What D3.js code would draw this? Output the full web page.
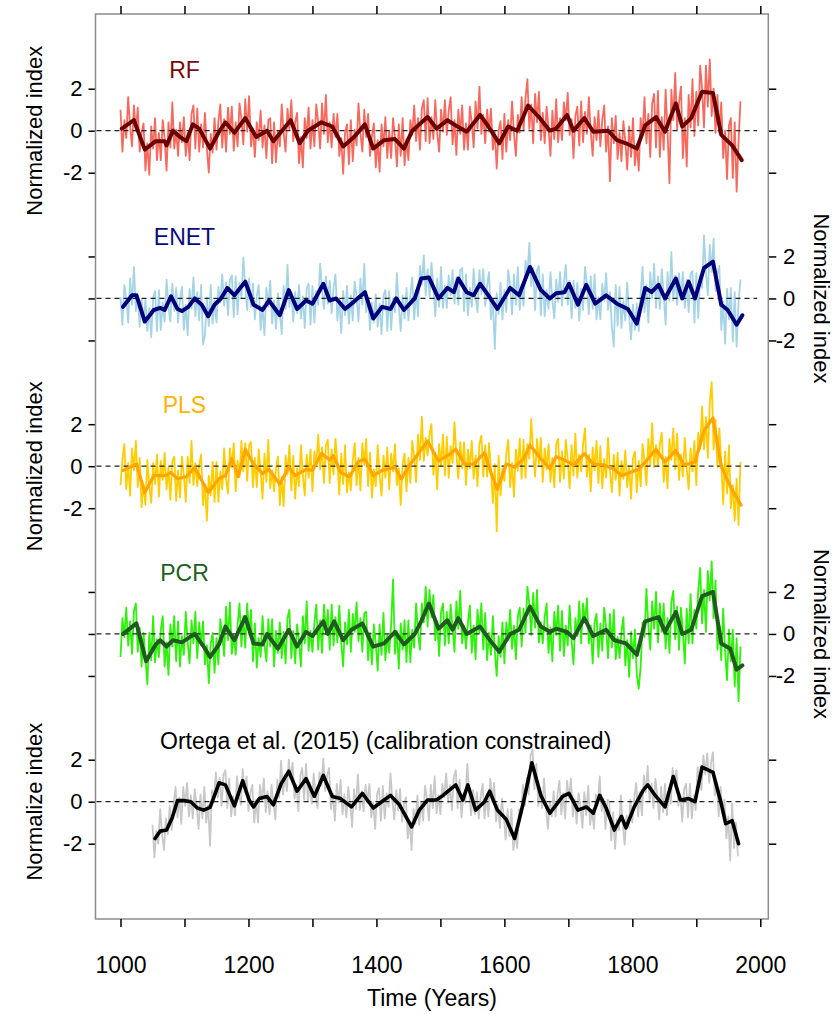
<!DOCTYPE html>
<html>
<head>
<meta charset="utf-8">
<script src="https://cdn.jsdelivr.net/npm/d3@7"></script>
<style>
body { margin: 0; background: #fff; }
text { font-family: "Liberation Sans", Arial, sans-serif; fill: #000; }
</style>
</head>
<body>
<div id="chart"></div>
<script>
// annual reconstructions, read every 3 years off the figure
var rfNoise = [
 1.0,-1.0,0.5,-0.35,1.6,0.2,-0.75,1.2,0.0,1.1,
 -1.0,-0.1,0.35,-1.9,-0.6,-2.1,0.2,-0.85,0.6,-1.4,
 -0.1,-1.4,0.5,-0.4,-1.9,0.4,-0.8,1.35,-0.85,0.05,
 -1.2,0.4,-0.55,0.65,-1.2,-0.1,-1.4,0.8,1.2,-0.85,
 1.05,-1.0,0.3,-0.8,0.85,-0.85,-2.0,-0.15,-1.05,0.6,
 -0.9,0.45,1.25,-0.8,0.55,-1.0,1.1,-0.15,1.15,-0.95,
 0.4,-0.75,1.3,0.55,-0.65,1.5,-0.05,1.65,-0.75,0.1,
 -1.25,0.4,-0.45,0.95,-0.8,0.25,-1.3,0.5,0.6,-1.55,
 0.4,-1.5,0.0,-0.75,1.25,-0.1,-1.0,1.05,0.05,1.45,
 -0.5,0.4,0.85,-1.55,-0.3,-1.75,0.6,-0.35,1.1,-0.85,
 0.5,-0.75,1.25,0.4,-0.85,1.3,-0.15,1.7,-0.55,0.4,
 -0.8,0.8,-0.3,0.8,-1.2,-0.35,-2.05,-0.1,0.3,-1.6,
 0.5,-1.45,0.05,-0.7,1.3,-0.1,-1.0,1.0,-0.3,0.8,
 -1.2,-0.25,0.35,-1.75,-0.45,-1.95,0.3,-0.75,0.65,-1.3,
 0.0,-1.3,0.6,-0.3,-1.7,0.3,-1.2,0.6,-1.65,-0.4,
 -1.4,0.5,-0.2,1.2,-0.5,0.6,-0.9,1.05,1.45,-0.5,
 1.55,-0.6,0.65,-0.4,1.45,-0.1,-1.0,1.0,-0.05,1.45,
 -0.2,0.95,1.6,-0.65,0.5,-1.15,1.0,-0.15,1.2,-0.9,
 0.35,-0.9,1.15,0.4,-0.8,1.4,0.1,2.1,-0.15,0.75,
 -0.6,1.0,-0.05,1.05,-0.9,-0.05,-1.8,0.0,0.45,-1.35,
 0.8,-1.0,0.5,-0.45,1.4,-0.15,-1.2,0.75,-0.1,1.6,
 0.0,1.55,2.45,0.1,1.25,-0.6,1.75,0.4,1.85,-0.45,
 0.85,-0.6,1.15,0.15,-1.2,0.95,-0.4,1.5,-0.55,0.6,
 -0.45,1.35,0.5,1.8,-0.2,0.55,-1.3,0.7,1.15,-0.7,
 1.4,-0.55,0.9,-0.15,1.6,-0.05,-1.2,0.65,-0.45,0.95,
 -0.75,0.5,1.2,-1.0,0.2,-2.4,0.6,-0.6,0.7,-1.35,
 -0.1,-1.45,0.45,-0.5,-1.85,0.2,-1.25,0.6,-1.65,-0.65,
 -1.9,0.6,-0.25,1.6,-0.6,0.8,-1.25,1.3,1.75,-0.8,
 1.9,-1.25,0.65,-0.9,1.95,0.0,-2.5,1.95,0.5,2.75,
 0.05,1.35,2.1,-1.3,0.6,-1.7,1.7,0.15,2.45,-0.25,
 1.85,0.25,3.1,2.0,0.15,3.1,1.15,3.4,0.7,2.0,
 -0.1,1.7,-0.1,1.35,-1.3,0.0,-2.3,0.25,0.6,-2.25,
 0.4,-2.9,-0.5,1.4
];
var enetNoise = [
 0.05,-1.25,0.65,-0.05,-1.15,0.95,-0.3,1.5,-0.6,0.1,
 -1.35,-0.05,-1.15,-0.05,-1.55,-0.45,-1.85,0.0,0.35,-1.55,
 0.4,-1.5,-0.2,-1.1,0.9,-0.35,-1.1,0.7,-0.6,0.5,
 -1.15,-0.05,0.55,-1.5,-0.3,-1.75,0.45,-0.5,1.0,-0.85,
 0.3,-1.05,0.65,-2.2,-1.75,0.05,-1.3,0.65,-1.2,-0.1,
 -1.15,0.55,-0.2,1.15,-0.35,0.75,-0.8,0.9,1.1,-0.9,
 1.05,-0.75,0.75,0.05,1.95,0.6,-0.55,0.95,-0.4,0.7,
 -1.0,0.1,0.65,-1.5,-0.35,-1.75,0.5,-0.4,0.85,-1.2,
 -0.1,-1.45,0.25,-0.7,-1.7,0.6,-0.5,1.6,-0.4,0.3,
 -1.1,0.3,-0.7,0.65,-0.95,0.1,-1.4,0.45,0.7,-1.25,
 0.6,-1.15,0.35,-0.3,1.65,0.4,-0.5,1.05,-0.25,0.85,
 -0.7,0.5,1.15,-1.05,0.0,-1.65,0.35,-0.8,0.6,-1.2,
 0.15,-1.05,0.8,0.05,-1.1,0.95,-0.3,1.65,-0.65,0.0,
 -1.5,-0.2,-1.15,0.2,-1.35,-0.25,-1.7,0.15,0.4,-1.55,
 0.35,-1.5,0.0,-0.65,1.2,-0.4,-1.55,0.15,-0.95,0.5,
 -1.05,0.15,1.0,-1.0,0.4,-0.85,1.55,0.65,2.05,0.15,
 1.4,0.1,1.7,0.6,-0.85,0.95,-0.4,1.5,-0.45,0.6,
 -0.45,1.1,0.15,1.35,-0.25,1.0,-0.3,1.35,1.45,-0.6,
 1.15,-0.8,0.5,-0.4,1.4,0.1,-0.65,1.35,0.2,1.4,
 -0.35,0.65,1.25,-1.0,-0.05,-2.4,0.25,-0.75,0.75,-1.0,
 0.4,-0.65,1.35,0.6,-0.75,1.15,-0.3,1.5,-0.55,0.65,
 -0.35,1.8,1.1,2.65,0.6,1.45,-0.55,1.35,1.55,-0.8,
 1.15,-0.85,0.4,-0.5,1.25,-0.1,-0.95,0.9,-0.15,1.25,
 -0.35,0.75,1.6,-0.3,0.85,-0.95,0.85,-0.45,0.75,-1.05,
 0.45,-0.55,1.5,0.7,-0.75,1.05,-0.5,1.15,-1.0,0.05,
 -1.0,0.7,-0.1,1.2,-0.55,0.3,-1.35,-2.3,0.65,-1.3,
 0.55,-1.4,-0.1,-1.05,0.75,-0.85,-1.95,-0.3,-1.5,-0.25,
 -1.55,0.25,1.5,-0.65,0.65,-1.15,1.25,0.0,1.65,-0.45,
 1.05,-0.5,1.4,0.2,-1.25,1.25,-0.1,2.2,-0.1,1.1,
 -0.3,1.2,-0.05,1.25,-0.45,0.9,-0.65,1.2,1.3,-1.15,
 1.2,-0.95,1.1,0.5,3.0,1.25,0.15,2.55,1.25,2.85,
 0.35,1.2,1.55,-1.5,-0.15,-2.15,0.45,-1.0,0.5,-2.05,
 0.3,-2.3,-0.2,0.9
];
var plsNoise = [
 -0.9,0.3,1.05,-1.1,0.15,-1.4,0.85,-0.2,1.2,-1.0,
 0.4,-1.95,-0.85,-1.85,0.3,-0.95,-1.75,0.15,-0.85,0.55,
 -1.45,0.25,-0.65,0.65,-1.1,-0.05,-1.6,0.25,0.45,-1.65,
 -0.2,-1.5,0.45,-0.4,-1.7,0.45,-0.8,1.2,-0.9,0.15,
 -0.95,0.05,0.55,-1.85,-0.85,-2.6,-0.45,-1.4,0.2,-1.7,
 0.2,-1.7,-0.25,-1.1,0.85,-0.6,-1.3,0.85,-0.05,1.1,
 -1.2,0.25,-0.5,1.2,-0.25,1.1,-0.7,1.0,1.15,-1.0,
 0.4,-1.0,0.8,-0.2,-1.55,0.6,-0.75,1.25,-1.05,-0.2,
 -1.2,-0.1,0.45,-1.85,-0.5,-1.9,0.5,-0.4,1.0,-1.15,
 0.5,-1.55,-0.1,-0.95,1.0,-0.45,-1.4,0.55,-0.55,0.8,
 -1.2,0.7,0.0,1.5,-0.15,0.9,-0.8,1.0,1.25,-0.8,
 0.8,-0.4,1.3,0.2,-1.35,0.6,-0.85,1.0,-1.25,-0.3,
 -1.15,0.25,1.1,-0.9,0.4,-1.15,1.1,0.05,1.3,-0.95,
 0.65,-1.5,-0.15,-0.95,1.0,-0.45,-1.4,0.5,-0.55,0.9,
 -1.1,0.6,-0.25,1.05,-0.9,-0.1,-1.85,0.1,0.6,-1.2,
 0.4,-0.8,1.2,0.45,-0.75,1.5,0.3,2.35,0.25,1.35,
 0.5,1.5,2.0,-0.4,0.65,-1.1,1.05,0.0,1.5,-0.45,
 1.4,-0.55,0.95,0.15,2.1,0.55,-0.6,1.15,-0.1,1.15,
 -0.9,0.8,-0.1,1.2,-0.6,0.5,-0.95,1.05,1.45,-0.5,
 1.0,-0.5,1.1,-0.2,-1.75,0.1,-3.1,0.5,-1.4,-0.1,
 -0.7,0.6,1.25,-1.0,0.15,-1.45,0.8,-0.2,1.3,-0.6,
 1.25,-0.55,1.05,0.35,2.25,0.6,-0.5,1.3,0.1,1.35,
 -0.75,0.85,-0.15,1.05,-0.75,0.4,-1.0,1.05,1.3,-0.75,
 0.7,-0.6,1.25,0.3,-1.05,1.0,-0.45,1.55,-0.55,0.55,
 -0.25,1.05,1.8,-0.5,0.55,-1.2,0.9,-0.2,1.2,-0.8,
 0.95,-1.05,0.35,-0.55,1.35,-0.2,-1.25,0.55,-0.65,0.65,
 -1.4,0.25,-0.6,0.75,-1.0,0.0,-1.55,0.4,0.7,-1.25,
 0.25,-0.95,1.05,0.25,-0.9,1.3,0.05,2.05,-0.05,1.0,
 0.0,1.05,1.6,-0.75,0.45,-1.05,1.3,0.3,1.8,-0.15,
 1.55,-0.65,0.55,-0.5,1.35,-0.1,-1.1,0.85,-0.25,1.2,
 -0.9,1.6,0.8,2.85,0.8,2.35,0.4,3.0,4.0,0.8,
 2.2,-0.05,1.8,0.15,-1.8,0.7,-1.3,1.0,-2.0,-0.9,
 -2.6,-0.6,-2.8,0.2
];
var pcrNoise = [
 -1.1,0.75,-0.15,1.25,-0.55,0.6,-0.95,1.1,1.45,-0.85,
 0.3,-1.55,0.05,-1.2,-2.4,0.05,-1.25,0.85,-1.35,-0.25,
 -1.1,0.2,0.85,-1.55,-0.4,-1.95,0.45,-0.6,0.85,-1.3,
 0.6,-1.55,-0.1,-1.0,1.05,-0.4,-1.4,0.65,-0.45,1.05,
 -1.15,0.55,-0.55,0.6,-1.45,-0.55,-2.35,-0.45,0.05,-1.85,
 -0.2,-1.45,0.7,0.0,-1.05,1.3,-0.3,1.5,-0.95,-0.05,
 -1.0,0.45,1.45,-0.6,0.85,-0.65,1.45,0.0,1.15,-1.3,
 0.5,-1.6,-0.2,-1.1,0.85,-0.5,-1.3,0.7,-0.6,0.7,
 -1.55,0.15,-0.9,0.55,-1.15,0.1,-1.4,0.75,1.15,-1.15,
 0.15,-1.4,0.45,-0.35,-1.55,0.85,-0.45,1.55,-0.8,0.15,
 -0.85,0.5,1.4,-0.75,0.65,-0.9,1.4,0.0,1.15,-0.75,
 1.4,-0.55,0.8,-0.4,1.35,-0.4,-1.55,0.55,-0.5,1.15,
 -0.85,0.95,0.1,1.5,-0.35,0.75,-0.85,1.0,1.05,-1.25,
 0.05,-1.45,0.45,-0.45,-1.75,0.45,-1.0,1.0,-1.25,-0.05,
 -0.9,0.45,2.6,-0.95,0.15,-1.65,0.5,-0.75,0.65,-1.35,
 0.65,-1.35,0.2,-0.65,1.45,0.1,-0.75,1.45,0.55,2.25,
 0.35,2.1,0.8,1.85,-0.3,0.6,-1.05,1.05,1.45,-0.55,
 1.05,-0.45,1.4,0.3,-0.85,1.55,0.25,2.05,-0.45,0.4,
 -0.7,0.55,1.35,-0.9,0.4,-1.2,1.15,0.05,1.45,-0.75,
 1.0,-1.25,0.05,-1.0,0.85,-0.8,-2.0,-0.1,-1.1,0.55,
 -1.4,0.55,-0.3,1.15,-0.7,0.4,-1.2,0.85,1.25,-0.6,
 1.2,0.05,2.25,1.4,-0.05,1.95,0.3,2.1,-0.4,0.55,
 -0.45,0.8,1.45,-0.9,0.3,-1.3,1.05,-0.05,1.35,-0.8,
 1.1,-1.05,0.4,-0.55,1.35,-0.3,-1.45,0.75,-0.1,1.55,
 -0.45,1.45,0.55,1.7,-0.45,0.4,-1.4,0.55,0.95,-1.1,
 0.5,-0.8,1.25,0.3,-1.15,0.95,-0.65,1.15,-1.2,-0.15,
 -1.15,0.1,0.8,-1.5,-0.3,-2.05,0.1,-1.15,0.2,-1.95,
 -2.6,-1.55,0.55,-0.15,2.15,0.4,-0.75,1.55,0.25,2.0,
 -0.4,1.45,0.1,1.45,-0.7,0.75,-0.9,1.5,2.05,-0.25,
 1.3,-0.75,1.25,0.1,-1.4,1.2,-0.45,1.9,-0.45,1.15,
 0.25,2.05,3.15,0.5,2.1,0.1,3.0,1.6,3.45,0.75,
 2.55,-0.75,0.4,-1.25,1.2,-0.85,-2.2,0.2,-1.3,0.2,
 -2.5,-0.2,-3.2,-0.6
];
var ortegaNoise = [
 -1.1,-2.65,-1.4,-2.0,-0.35,-1.55,-2.3,-0.8,-1.55,-0.2,
 -1.35,-0.15,0.7,-0.75,0.2,-1.05,0.7,-0.2,0.9,-0.7,
 0.3,-0.8,0.6,-0.2,-1.3,0.35,-0.8,0.7,-1.0,-0.15,
 -2.1,0.55,0.1,1.4,0.2,1.15,-0.2,1.3,1.5,-0.3,
 1.1,-0.7,0.25,-0.65,1.2,0.3,-0.15,1.55,0.45,1.2,
 -0.45,0.4,0.8,-1.0,0.1,-1.0,0.8,0.0,1.1,-0.5,
 0.5,-0.6,0.8,-0.05,-0.85,1.05,0.2,1.95,0.35,1.3,
 0.5,2.0,1.1,1.85,0.15,0.8,-0.45,1.25,1.6,0.1,
 1.8,0.0,0.9,-0.1,1.35,0.3,-0.3,1.4,0.75,2.05,
 0.5,1.25,1.6,-0.35,0.4,-0.9,0.85,-0.05,1.05,-0.6,
 0.35,-0.75,0.7,-0.1,-1.2,0.6,-0.35,1.3,-0.4,0.5,
 -0.45,0.8,-0.05,0.85,-0.75,-0.05,-1.3,0.35,0.65,-0.9,
 0.75,-0.8,0.4,-0.25,1.35,0.05,-0.85,0.55,-0.4,0.6,
 -0.95,-0.15,0.2,-1.75,-0.95,-2.3,-0.35,-1.05,0.3,-1.1,
 0.0,-0.9,0.75,0.15,-0.9,0.8,-0.3,1.2,-0.55,0.3,
 -0.6,0.85,0.2,1.35,-0.05,0.8,-0.4,1.2,1.5,-0.3,
 1.05,-0.75,0.4,-0.05,1.8,0.45,-0.65,0.55,-0.6,0.45,
 -0.8,0.25,0.85,-0.8,0.35,-0.7,1.1,0.0,0.9,-0.95,
 -0.15,-1.25,0.15,-0.65,-1.8,-0.35,-1.65,-0.35,-2.3,-1.55,
 -2.2,-0.35,-0.65,0.8,-0.2,1.15,0.35,2.2,2.5,0.6,
 1.8,-0.2,0.65,-0.3,1.1,-0.3,-1.3,0.0,-0.7,0.5,
 -0.7,0.35,1.0,-0.6,0.4,-0.8,1.0,0.15,1.1,-0.7,
 0.1,-1.05,0.4,-0.25,-1.25,0.45,-0.65,0.75,-1.1,-0.35,
 -1.3,0.35,-0.05,1.2,-0.45,0.15,-1.3,0.1,0.0,-1.85,
 -0.5,-2.25,-0.85,-1.35,0.3,-1.05,-2.05,-0.65,-1.25,0.1,
 -1.0,0.15,0.9,-0.7,0.45,-0.65,1.25,0.45,1.7,0.0,
 0.85,-0.3,1.1,0.3,-0.85,0.7,-0.5,0.85,-0.65,0.45,
 -0.1,1.6,0.85,1.5,-0.2,0.35,-0.95,0.6,0.85,-0.75,
 0.85,-0.8,0.3,-0.4,1.65,0.95,0.55,2.2,1.3,2.3,
 0.9,1.85,2.35,0.3,0.9,-0.7,0.7,-0.6,0.1,-1.75,
 -0.7,-2.8,-0.1,-2.2,-1.0,-2.6
];
var noiseStart = [1000, 1000, 1000, 1000, 1050];
var noiseStep = 3;

// smoothed curves, [year, index]
var rfSmooth = [[1002,0.1],[1021,0.5],[1038,-0.9],[1055,-0.5],[1069,-0.5],[1072,-0.7],[1082,0.0],[1093,-0.3],[1103,-0.5],[1113,0.3],[1123,0.1],[1140,-0.85],[1154,-0.05],[1164,0.4],[1178,-0.1],[1195,0.6],[1212,-0.3],[1229,0.0],[1239,-0.5],[1266,0.5],[1280,-0.6],[1293,0.0],[1314,0.4],[1331,0.2],[1348,-0.75],[1365,-0.3],[1382,0.3],[1395,-0.85],[1412,-0.45],[1429,-0.4],[1443,-0.85],[1456,0.0],[1480,0.65],[1494,0.1],[1511,0.5],[1524,0.25],[1541,-0.05],[1562,0.75],[1575,0.2],[1592,-0.6],[1606,0.2],[1620,0.0],[1637,1.2],[1654,0.65],[1671,0.0],[1681,0.1],[1698,0.75],[1708,0.0],[1725,0.6],[1739,-0.05],[1762,0.0],[1776,-0.45],[1790,-0.6],[1807,-0.85],[1820,0.25],[1837,0.65],[1851,-0.05],[1868,1.3],[1878,0.2],[1892,0.6],[1909,1.85],[1926,1.8],[1939,-0.2],[1956,-0.7],[1971,-1.4]];
var enetSmooth = [[1004,-0.4],[1018,0.15],[1025,0.15],[1038,-1.1],[1052,-0.55],[1062,-0.45],[1069,-0.55],[1079,0.1],[1089,-0.5],[1096,-0.6],[1106,-0.4],[1116,0.0],[1127,-0.3],[1137,-0.85],[1147,-0.3],[1157,0.0],[1167,0.5],[1178,0.15],[1195,0.8],[1208,-0.3],[1222,-0.55],[1232,-0.1],[1249,-0.8],[1263,0.4],[1276,-0.5],[1290,-0.1],[1300,-0.25],[1317,0.7],[1327,-0.1],[1337,0.0],[1351,-0.5],[1365,-0.15],[1382,0.3],[1395,-0.95],[1409,-0.4],[1422,-0.5],[1431,0.0],[1443,-0.55],[1460,0.0],[1470,0.95],[1482,1.0],[1497,0.0],[1511,0.5],[1521,0.3],[1528,0.95],[1541,0.3],[1552,0.15],[1562,0.7],[1575,0.15],[1589,-0.5],[1609,0.5],[1623,0.15],[1640,1.5],[1657,0.4],[1671,0.0],[1681,0.25],[1694,0.3],[1701,0.7],[1715,-0.3],[1728,0.65],[1742,-0.25],[1759,0.15],[1776,-0.25],[1793,-0.5],[1807,-1.2],[1820,0.5],[1830,0.3],[1841,0.65],[1851,0.0],[1868,0.95],[1878,0.0],[1888,0.8],[1898,0.0],[1912,1.45],[1926,1.75],[1939,-0.3],[1949,-0.55],[1963,-1.25],[1972,-0.8]];
var plsSmooth = [[1004,-0.2],[1025,0.1],[1038,-1.25],[1052,-0.45],[1069,-0.45],[1079,-0.3],[1089,-0.6],[1103,-0.5],[1116,-0.05],[1137,-1.25],[1154,-0.6],[1164,-0.45],[1174,0.35],[1184,-0.5],[1195,0.8],[1208,0.1],[1222,-0.35],[1232,-0.15],[1249,-0.85],[1263,-0.05],[1273,-0.45],[1290,-0.15],[1300,-0.2],[1314,0.6],[1327,0.3],[1333,0.5],[1344,-0.3],[1358,-0.5],[1371,0.2],[1382,0.35],[1395,-0.45],[1409,-0.2],[1429,-0.05],[1439,-0.6],[1453,0.1],[1463,0.5],[1480,1.2],[1497,0.25],[1511,0.5],[1524,0.8],[1538,0.1],[1552,0.1],[1569,0.65],[1579,-0.3],[1589,-1.1],[1603,0.1],[1616,-0.05],[1630,0.35],[1640,1.0],[1657,0.35],[1671,-0.1],[1681,0.45],[1694,0.3],[1708,0.05],[1725,0.6],[1739,0.1],[1756,0.05],[1772,-0.15],[1783,-0.45],[1796,-0.3],[1810,-0.15],[1820,0.2],[1837,0.8],[1851,0.2],[1868,0.75],[1881,0.05],[1898,0.2],[1912,1.7],[1926,2.3],[1939,0.0],[1949,-0.7],[1963,-1.5],[1970,-1.85]];
var pcrSmooth = [[1004,0.0],[1025,0.5],[1040,-1.3],[1055,-0.5],[1062,-0.3],[1072,-0.6],[1082,-0.3],[1096,-0.4],[1106,-0.2],[1116,0.0],[1130,-0.6],[1140,-1.1],[1154,-0.5],[1164,0.35],[1178,-0.3],[1195,0.8],[1208,-0.45],[1222,-0.5],[1229,0.0],[1246,-0.7],[1263,0.2],[1276,-0.6],[1290,0.1],[1300,-0.1],[1317,0.6],[1324,0.0],[1334,0.6],[1348,-0.3],[1361,0.2],[1378,0.5],[1395,-0.6],[1412,-0.45],[1429,0.1],[1443,-0.5],[1460,0.0],[1470,0.6],[1482,1.45],[1497,0.25],[1511,0.65],[1519,0.2],[1528,0.75],[1541,0.0],[1562,0.35],[1575,-0.2],[1592,-0.85],[1609,0.0],[1623,0.2],[1640,1.3],[1657,0.35],[1671,0.1],[1681,0.25],[1698,0.1],[1708,-0.2],[1725,0.75],[1739,-0.1],[1759,0.2],[1772,-0.3],[1790,-0.45],[1807,-1.0],[1820,0.6],[1841,0.8],[1851,0.1],[1868,1.05],[1878,0.0],[1892,0.2],[1909,1.8],[1926,2.0],[1939,-0.45],[1953,-0.7],[1963,-1.7],[1972,-1.5]];
var ortegaSmooth = [[1054,-1.75],[1062,-1.4],[1072,-1.35],[1081,-0.75],[1089,0.05],[1099,0.05],[1110,0.0],[1120,-0.3],[1130,-0.4],[1140,-0.27],[1147,0.3],[1154,0.9],[1164,0.8],[1178,-0.2],[1191,1.0],[1201,0.08],[1208,-0.25],[1217,0.15],[1229,0.25],[1239,-0.15],[1251,0.85],[1263,1.45],[1276,0.5],[1290,1.1],[1303,0.25],[1317,1.25],[1331,0.25],[1344,0.15],[1361,-0.25],[1378,0.4],[1395,-0.3],[1412,0.08],[1422,0.3],[1436,-0.15],[1455,-1.2],[1467,-0.4],[1480,0.08],[1494,0.08],[1504,0.3],[1514,0.55],[1524,0.8],[1535,0.08],[1543,0.8],[1555,-0.4],[1569,0.0],[1577,0.5],[1589,-0.4],[1603,-0.85],[1616,-1.75],[1630,0.0],[1643,1.85],[1657,0.3],[1671,-0.55],[1681,-0.15],[1691,0.25],[1701,0.4],[1715,-0.4],[1728,-0.25],[1739,-0.55],[1749,0.3],[1759,-0.3],[1772,-1.35],[1783,-0.7],[1790,-1.25],[1803,-0.25],[1817,0.55],[1824,0.8],[1837,0.25],[1851,-0.25],[1864,1.2],[1875,0.08],[1888,0.15],[1898,0.0],[1909,1.65],[1926,1.4],[1939,-0.1],[1946,-1.05],[1956,-0.9],[1966,-2.0]];

var panelNames = ["RF", "ENET", "PLS", "PCR", "Ortega et al. (2015) (calibration constrained)"];
var yTitles = ["Normalized index", "Normalized index", "Normalized index", "Normalized index", "Normalize index"];
var yTicks = [-2, 0, 2];
var xTicks = [1000, 1100, 1200, 1300, 1400, 1500, 1600, 1700, 1800, 1900, 2000];

var noiseSets = [rfNoise, enetNoise, plsNoise, pcrNoise, ortegaNoise];
var smoothSets = [rfSmooth, enetSmooth, plsSmooth, pcrSmooth, ortegaSmooth];

var noiseColor = ["#f7695c", "#a5d4e6", "#ffcc00", "#2ef20a", "#c8c8c8"],
    smoothColor = ["#6b0000", "#00007a", "#ffa500", "#1f5a1f", "#000000"],
    labelColor = ["#7a0a0a", "#0a0a80", "#ffb300", "#1f5f1f", "#000000"],
    smoothWidth = [4, 4, 3.2, 4, 3.6];

var W = 834, H = 1014;
var frame = {left: 95.5, right: 768.3, top: 14, bottom: 919};

var svg = d3.select("#chart").append("svg")
    .attr("width", W)
    .attr("height", H);

var x = d3.scaleLinear().domain([1000, 2000]).range([120.5, 760.3]);

var zeroY = function(i) { return 130.7 + i * 167.75; };

var line = d3.line()
    .x(function(d) { return x(d[0]); })
    .y(function(d) { return d[1]; });

panelNames.forEach(function(name, i) {
    var y0 = zeroY(i);
    var y = d3.scaleLinear().domain([-2, 2]).range([y0 + 42, y0 - 42]);
    var g = svg.append("g").attr("class", "panel");

    var noisePts = noiseSets[i].map(function(v, k) {
	return [noiseStart[i] + k * noiseStep, y(v)];
    });
    g.append("path")
	.attr("d", line(noisePts))
	.attr("fill", "none")
	.attr("stroke", noiseColor[i])
	.attr("stroke-width", 1.8)
	.attr("stroke-linejoin", "round");

    // zero reference
    g.append("line")
	.attr("x1", frame.left + 1).attr("x2", x(1995))
	.attr("y1", y(0)).attr("y2", y(0))
	.attr("stroke", "#222")
	.attr("stroke-width", 1.3)
	.attr("stroke-dasharray", "5,4");

    g.append("path")
	.attr("d", line(smoothSets[i].map(function(d) { return [d[0], y(d[1])]; })))
	.attr("fill", "none")
	.attr("stroke", smoothColor[i])
	.attr("stroke-width", smoothWidth[i])
	.attr("stroke-linejoin", "round")
	.attr("stroke-linecap", "round");

    var lbl = g.append("text")
	.attr("y", y0 - 53)
	.style("font-size", "23px")
	.style("fill", labelColor[i])
	.text(name);
    if (i < 4) lbl.attr("x", x(1100)).attr("text-anchor", "middle");
    else lbl.attr("x", 160);

    // ticks on both sides, labels alternate
    var left = i % 2 == 0;
    var axL = d3.axisLeft(y).tickValues(yTicks).tickSize(7).tickPadding(6)
	.tickFormat(left ? function(d) { return d; } : "");
    var axR = d3.axisRight(y).tickValues(yTicks).tickSize(8).tickPadding(19)
	.tickFormat(left ? "" : function(d) { return d; });

    var gl = g.append("g").attr("transform", "translate(" + frame.left + ",0)").call(axL);
    var gr = g.append("g").attr("transform", "translate(" + frame.right + ",0)").call(axR);
    [gl, gr].forEach(function(a) {
	a.select(".domain").remove();
	a.selectAll(".tick line").attr("stroke", "#000").attr("stroke-width", 1.5);
	a.selectAll(".tick text").style("font-size", "22px").style("font-family", "Liberation Sans, Arial, sans-serif").attr("fill", "#000");
    });
    gr.selectAll(".tick text").attr("text-anchor", "end").attr("x", 27);

    if (left) {
	svg.append("text")
	    .attr("transform", "translate(42," + y0 + ") rotate(-90)")
	    .attr("text-anchor", "middle")
	    .style("font-size", "22px")
	    .text(yTitles[i]);
    } else {
	svg.append("text")
	    .attr("transform", "translate(814," + y0 + ") rotate(90)")
	    .attr("text-anchor", "middle")
	    .style("font-size", "22px")
	    .text(yTitles[i]);
    }
});

// frame
svg.append("rect")
    .attr("x", frame.left).attr("y", frame.top)
    .attr("width", frame.right - frame.left)
    .attr("height", frame.bottom - frame.top)
    .attr("fill", "none")
    .attr("stroke", "#8c8c8c")
    .attr("stroke-width", 1.5);

var xAxis = d3.axisBottom(x).tickValues(xTicks).tickSize(8).tickPadding(30)
    .tickFormat(function(d) { return d % 200 == 0 ? d : ""; });
var xTop = d3.axisTop(x).tickValues(xTicks).tickSize(8).tickFormat("");

var gx = svg.append("g").attr("transform", "translate(0," + frame.bottom + ")").call(xAxis);
var gt = svg.append("g").attr("transform", "translate(0," + frame.top + ")").call(xTop);
[gx, gt].forEach(function(a) {
    a.select(".domain").remove();
    a.selectAll(".tick line").attr("stroke", "#000").attr("stroke-width", 1.5);
});
gx.selectAll(".tick text").style("font-size", "23px").style("font-family", "Liberation Sans, Arial, sans-serif").attr("fill", "#000");

svg.append("text")
    .attr("x", 432).attr("y", 1006)
    .attr("text-anchor", "middle")
    .style("font-size", "23px")
    .text("Time (Years)");
</script>
</body>
</html>
